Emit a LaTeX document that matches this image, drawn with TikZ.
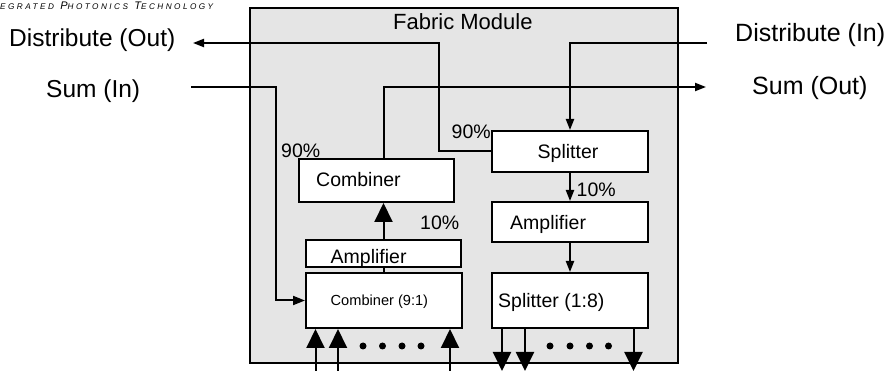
\documentclass[tikz,border=0pt]{standalone}
\usepackage{fontspec}
\setmainfont{Liberation Sans}
\usetikzlibrary{arrows.meta}
\definecolor{panelgray}{RGB}{229,229,229}
\newcommand\hdsc[1]{{\fontsize{8.2}{10}\selectfont #1}}
\begin{document}
\begin{tikzpicture}[x=1pt,y=-1pt,
  wire/.style={line width=2pt, black},
  smalltip/.style={-{Triangle[length=11pt,width=8pt]}},
  bigtip/.style={-{Triangle[length=19pt,width=18pt]}},
  box/.style={draw, line width=2pt, fill=white, inner sep=0pt},
  txt/.style={anchor=base west, inner sep=0pt, font=\fontsize{19.5}{22}\selectfont},
  side/.style={anchor=base west, inner sep=0pt, font=\fontsize{24.5}{28}\selectfont},
  dot/.style={fill=black}
]
\useasboundingbox (0,0) rectangle (887,371);

% running header
\node[anchor=base west, inner sep=0pt,
      font=\fontsize{11}{13}\selectfont\itshape\addfontfeature{LetterSpace=30}]
  (header) at (0,10) {\hdsc{EGRATED} P\hdsc{HOTONICS} T\hdsc{ECHNOLOGY}};

% module outline
\node[draw, line width=2pt, fill=panelgray, minimum width=428pt, minimum height=355pt, inner sep=0pt]
  (fabric) at (464,185.5) {};
\node[anchor=base west, inner sep=0pt, font=\fontsize{22}{26}\selectfont] (fabric-t) at (393,29.5) {Fabric Module};

% functional blocks
\node[box, minimum width=156pt, minimum height=41pt] (splitter) at (570,151.5) {};
\node[box, minimum width=155pt, minimum height=43pt] (combiner) at (376.5,180.5) {};
\node[box, minimum width=156pt, minimum height=40pt] (ampR) at (570,222) {};
\node[box, minimum width=155pt, minimum height=27pt] (ampL) at (383.5,253.5) {};
\node[box, minimum width=156pt, minimum height=55pt] (comb91) at (384,300.5) {};
\node[box, minimum width=156pt, minimum height=55pt] (split18) at (570,300.5) {};

% block labels
\node[txt] (splitter-t) at (537.5,159) {Splitter};
\node[txt] (combiner-t) at (316,187) {Combiner};
\node[txt] (ampR-t) at (510,230) {Amplifier};
\begin{scope}
  \clip (ampL.south west) rectangle (ampL.north east);
  \node[txt] (ampL-t) at (330.5,264) {Amplifier};
\end{scope}
\node[anchor=base west, inner sep=0pt, font=\fontsize{14.6}{17}\selectfont] (comb91-t) at (330.5,306) {Combiner (9:1)};
\node[txt] (split18-t) at (498,308) {Splitter (1:8)};

% split ratios
\node[txt] (r90a) at (451.5,139) {90\%};
\node[txt] (r90b) at (281,158) {90\%};
\node[txt] (r10a) at (576.5,197) {10\%};
\node[txt] (r10b) at (420,230) {10\%};

% external ports
\node[side] (distout-t) at (9,46.5) {Distribute (Out)};
\node[side] (sumin-t) at (46,98) {Sum (In)};
\node[side, font=\fontsize{25}{28}\selectfont] (distin-t) at (735,41.5) {Distribute (In)};
\node[side, font=\fontsize{25}{28}\selectfont] (sumout-t) at (752,95) {Sum (Out)};

\coordinate (distout) at (193,43);
\coordinate (distin) at (707,43);
\coordinate (sumin) at (191,87);
\coordinate (sumout) at (706,87);

% connections
\draw[wire, smalltip] (splitter.west) -| (439,43) -- (distout);
\draw[wire, smalltip] (distin) -| (splitter.north);
\draw[wire, -{Triangle[length=12pt,width=9pt]}] (sumin) -- (276,87) |- (comb91.west);
\draw[wire, smalltip] (comb91.north |- combiner.north) |- (sumout);
\draw[wire, smalltip] (splitter.south) -- (ampR.north);
\draw[wire, smalltip] (ampR.south) -- (split18.north);
\draw[wire, bigtip] (ampL.north) -- (ampL.north |- combiner.south);
\draw[wire] (comb91.north) -- (comb91.north |- ampL.south);

% fan-in to the 9:1 combiner
\coordinate (in1) at (315.5,371);
\coordinate (in2) at (338,371);
\coordinate (in9) at (450,371);
\foreach \p in {in1,in2,in9}
  \draw[wire, bigtip] (\p) -- (\p |- comb91.south);

% fan-out from the 1:8 splitter
\coordinate (out1) at (502,371);
\coordinate (out2) at (525,371);
\coordinate (out8) at (633.5,371);
\foreach \p in {out1,out2,out8}
  \draw[wire, bigtip] (\p |- split18.south) -- (\p);

% ellipses between the ports
\foreach \x in {363,382.5,402,421}
  \fill[dot] (\x,346) circle (3.5pt);
\foreach \x in {550,570,589.5,608.5}
  \fill[dot] (\x,346) circle (3.5pt);
\end{tikzpicture}
\end{document}
